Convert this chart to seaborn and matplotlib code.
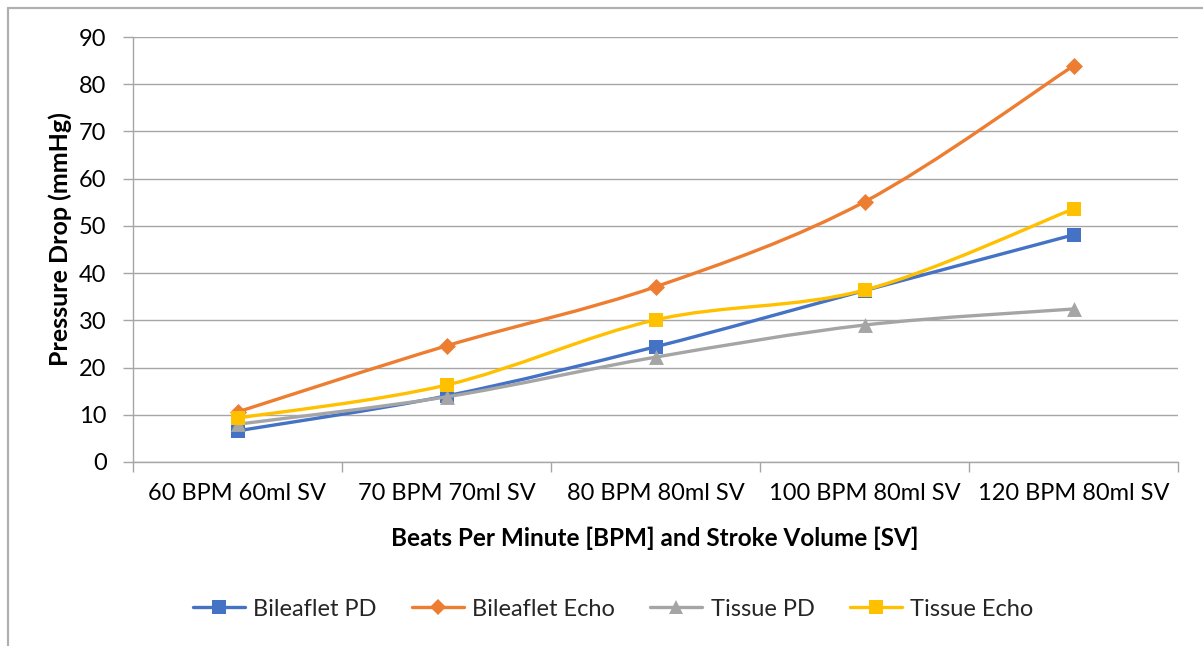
import numpy as np
import pandas as pd
import matplotlib
matplotlib.use("Agg")
import matplotlib.pyplot as plt
from matplotlib.path import Path
from matplotlib.patches import PathPatch
from matplotlib.lines import Line2D
import seaborn as sns

# ---- data ----
categories = ["60 BPM 60ml SV", "70 BPM 70ml SV", "80 BPM 80ml SV",
              "100 BPM 80ml SV", "120 BPM 80ml SV"]
series_names = ["Bileaflet PD", "Bileaflet Echo", "Tissue PD", "Tissue Echo"]
bileaflet_pd = [6.6, 14.0, 24.4, 36.3, 48.1]
bileaflet_echo = [10.6, 24.6, 37.1, 55.1, 83.9]
tissue_pd = [8.0, 13.8, 22.2, 29.0, 32.4]
tissue_echo = [9.3, 16.3, 30.1, 36.4, 53.6]
y_ticks = [0, 10, 20, 30, 40, 50, 60, 70, 80, 90]

values = [bileaflet_pd, bileaflet_echo, tissue_pd, tissue_echo]
colors = ["#4472C4", "#ED7D31", "#A5A5A5", "#FFC000"]
markers = ["s", "D", "^", "s"]
msizes = [105, 75, 115, 105]

df = pd.DataFrame({
    "series": np.repeat(series_names, len(categories)),
    "pos": np.tile(np.arange(len(categories)), len(series_names)),
    "value": np.concatenate(values),
})

sns.set_theme(style="white")
plt.rcParams["font.family"] = ["Lato", "DejaVu Sans"]

W, H = 1203, 646
fig = plt.figure(figsize=(W / 100, H / 100), dpi=100)
ax = fig.add_axes([133 / W, 1 - 462 / H, (1178 - 133) / W, (462 - 37) / H])

GRID = "#A6A6A6"
LW = 2.4


def smooth_path(xs, ys, t=1 / 6):
    """Cubic Bezier path through the points (spreadsheet-style smoothing)."""
    pts = np.column_stack([xs, ys]).astype(float)
    n = len(pts)
    verts = [pts[0]]
    codes = [Path.MOVETO]
    for i in range(n - 1):
        p0 = pts[max(i - 1, 0)]
        p1 = pts[i]
        p2 = pts[i + 1]
        p3 = pts[min(i + 2, n - 1)]
        c1 = p1 + (p2 - p0) * t
        c2 = p2 - (p3 - p1) * t
        verts += [c1, c2, p2]
        codes += [Path.CURVE4] * 3
    return Path(verts, codes)


for i, name in enumerate(series_names):
    sub = df[df["series"] == name]
    patch = PathPatch(smooth_path(sub["pos"].values, sub["value"].values),
                      facecolor="none", edgecolor=colors[i], lw=LW,
                      capstyle="round", joinstyle="round", zorder=3 + 2 * i)
    ax.add_patch(patch)
    sns.scatterplot(data=sub, x="pos", y="value", color=colors[i],
                    marker=markers[i], s=msizes[i], linewidth=0,
                    ax=ax, zorder=4 + 2 * i, legend=False)

ax.set_xlim(-0.5, len(categories) - 0.5)
ax.set_ylim(0, 90)
ax.set_yticks(y_ticks)
ax.set_xticks(range(len(categories)))
ax.set_xticklabels(categories)
ax.set_xticks(np.arange(-0.5, len(categories)), minor=True)
ax.set_xlabel("")
ax.set_ylabel("")

ax.grid(axis="y", color=GRID, lw=1.0)
ax.set_axisbelow(True)
for s in ["top", "right"]:
    ax.spines[s].set_visible(False)
for s in ["left", "bottom"]:
    ax.spines[s].set_color(GRID)
    ax.spines[s].set_linewidth(1.0)

ax.tick_params(axis="x", which="major", length=0, pad=15, labelsize=17,
               labelcolor="#000000")
ax.tick_params(axis="x", which="minor", length=7, width=1, color=GRID,
               direction="out", bottom=True)
ax.tick_params(axis="y", which="major", length=7, width=1, color=GRID,
               direction="out", left=True, pad=12, labelsize=17,
               labelcolor="#000000")

fig.text(655 / W, 1 - 538 / H, "Beats Per Minute [BPM] and Stroke Volume [SV]",
         ha="center", va="center", fontsize=17.5, fontweight="bold", color="#000000")
fig.text(60 / W, 1 - 239 / H, "Pressure Drop (mmHg)", rotation=90,
         ha="center", va="center", fontsize=18, fontweight="bold", color="#000000")

handles = [Line2D([], [], color=colors[i], lw=LW, marker=markers[i],
                  markersize=10.5 if markers[i] != "D" else 8.5,
                  markeredgewidth=0) for i in range(len(series_names))]
fig.legend(handles, series_names, loc="center", ncol=4,
           bbox_to_anchor=(613 / W, 1 - 609 / H), frameon=False,
           fontsize=17, handlelength=2.2, handletextpad=0.35,
           columnspacing=1.5)

# outer chart frame (left and top edges)
fig.add_artist(Line2D([7.5 / W, 7.5 / W], [0, 1 - 7.5 / H],
                      transform=fig.transFigure, color="#B0B0B0", lw=1.6))
fig.add_artist(Line2D([7.5 / W, 1], [1 - 7.5 / H, 1 - 7.5 / H],
                      transform=fig.transFigure, color="#B0B0B0", lw=1.6))

fig.savefig("out.png", dpi=100, facecolor="white")
